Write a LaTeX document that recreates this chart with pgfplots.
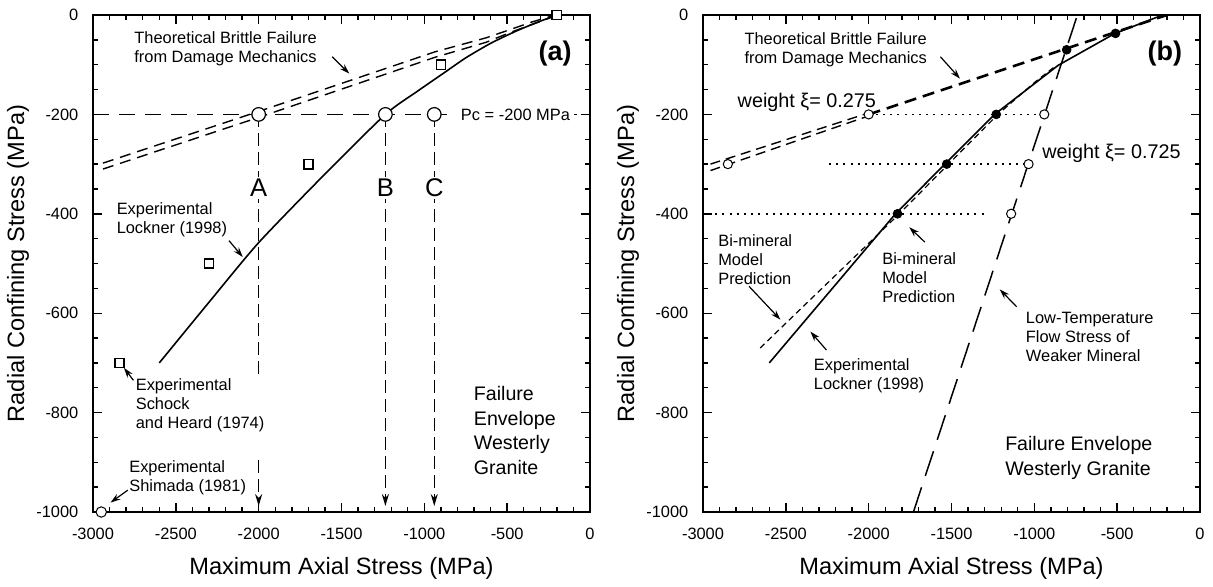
\documentclass[border=0pt]{standalone}
\usepackage{fontspec}
\setmainfont{Liberation Sans}
\usepackage{pgfplots}
\pgfplotsset{compat=1.18}
\usetikzlibrary{arrows.meta}

\newcommand\sm{\fontsize{8.2}{9.5}\selectfont}
\newcommand\md{\fontsize{9.8}{12.2}\selectfont}

\tikzset{arr/.style={-{Stealth[length=5pt,width=3.2pt]}, line width=0.6pt}}

\pgfplotsset{
  panel/.style={
    scale only axis, width=248.5pt, height=248.5pt,
    anchor=south west,
    xmin=-3000, xmax=0, ymin=-1000, ymax=0,
    xtick={-3000,-2500,...,0},
    xticklabels={-3000,-2500,-2000,-1500,-1000,-500,0},
    ytick={-1000,-800,...,0},
    yticklabels={-1000,-800,-600,-400,-200,0},
    minor x tick num=4, minor y tick num=3,
    tick align=inside, major tick length=4.5pt, minor tick length=2.5pt,
    every tick/.style={black, line width=0.7pt},
    axis line style={line width=1pt},
    tick label style={font=\fontsize{8.2}{9}\selectfont},
    xticklabel style={yshift=-4.3pt},
    yticklabel style={xshift=-3.8pt},
    xlabel={Maximum Axial Stress (MPa)},
    ylabel={Radial Confining Stress (MPa)},
    label style={font=\fontsize{11.8}{13}\selectfont},
    xlabel style={at={(axis description cs:0.5,-0.1127)}, anchor=center},
    ylabel style={at={(axis description cs:-0.151,0.5)}, anchor=center},
  }
}

\begin{document}
\begin{tikzpicture}

% ---------------- panel (a)
\begin{axis}[panel, at={(46.5pt,37pt)}]
% brittle failure, damage mechanics (double dashed)
\addplot[black, line width=0.7pt, dash pattern=on 5.5pt off 3.5pt] coordinates {
  (-2940,-298) (-2000,-194) (-935,-74) (-628,-46) (-488,-30) (-350,-14) (-210,0)};
\addplot[black, line width=0.7pt, dash pattern=on 5.5pt off 3.5pt] coordinates {
  (-2940,-310) (-2000,-206) (-935,-85) (-628,-55) (-488,-36) (-350,-19) (-210,-2)};
% Pc = -200 line
\addplot[black, line width=0.7pt, dash pattern=on 8pt off 5pt] coordinates {(-3000,-200) (0,-200)};
% vertical drops
\addplot[black, line width=0.75pt, dash pattern=on 6.5pt off 3pt] coordinates {(-2000,-200) (-2000,-722)};
\addplot[black, line width=0.75pt, dash pattern=on 6.5pt off 3pt, -{Stealth[length=6pt,width=3.5pt]}] coordinates {(-2000,-895) (-2000,-988)};
\addplot[black, line width=0.75pt, dash pattern=on 6.5pt off 3pt, -{Stealth[length=6pt,width=3.5pt]}] coordinates {(-1235,-200) (-1235,-988)};
\addplot[black, line width=0.75pt, dash pattern=on 6.5pt off 3pt, -{Stealth[length=6pt,width=3.5pt]}] coordinates {(-940,-200) (-940,-988)};
% Lockner (1998)
\addplot[black, line width=0.8pt, smooth, tension=0.4] coordinates {
  (-2600,-700) (-2300,-578) (-2000,-458) (-1600,-320) (-1235,-200)
  (-1040,-153) (-875,-115) (-749,-86) (-600,-57) (-450,-33) (-320,-15) (-200,0)};
% Schock and Heard squares
\addplot[only marks, mark=square*, mark size=2.3pt,
  mark options={fill=white, draw=black, line width=0.8pt}] coordinates {
  (-200,0) (-900,-100) (-1700,-300) (-2300,-500) (-2840,-700)};
% Shimada
\addplot[only marks, mark=*, mark size=2.6pt,
  mark options={fill=white, draw=black, line width=0.5pt}] coordinates {(-2950,-1000)};
% A, B, C points
\addplot[only marks, mark=*, mark size=3.4pt,
  mark options={fill=white, draw=black, line width=0.6pt}] coordinates {
  (-2000,-200) (-1235,-200) (-940,-200)};

\node[font=\fontsize{12.8}{14}\selectfont, fill=white, inner sep=1pt] at (axis cs:-2000,-348) {A};
\node[font=\fontsize{12.8}{14}\selectfont, fill=white, inner sep=1pt] at (axis cs:-1235,-348) {B};
\node[font=\fontsize{12.8}{14}\selectfont, fill=white, inner sep=1pt] at (axis cs:-940,-348) {C};
\node[font=\sm, fill=white, inner sep=2pt] at (axis cs:-450,-200) {Pc = -200 MPa};
\node[font=\fontsize{13.5}{15}\selectfont\bfseries] at (axis cs:-210,-77) {(a)};

\node[font=\sm, align=center, inner sep=0pt] at (axis cs:-2200,-68) {Theoretical Brittle Failure\\from Damage Mechanics};
\draw[arr] (axis cs:-1556,-84) -- (axis cs:-1453,-118);
\node[font=\sm, align=left, anchor=west, inner sep=0pt] at (axis cs:-2859,-412) {Experimental\\Lockner (1998)};
\draw[arr] (axis cs:-2179,-454) -- (axis cs:-2096,-487);
\node[font=\sm, align=left, anchor=west, inner sep=0pt] at (axis cs:-2744,-785) {Experimental\\Schock\\and Heard (1974)};
\draw[arr] (axis cs:-2756,-735) -- (axis cs:-2813,-710);
\node[font=\sm, align=left, anchor=west, inner sep=0pt] at (axis cs:-2783,-931) {Experimental\\Shimada (1981)};
\draw[arr] (axis cs:-2790,-956) -- (axis cs:-2894,-981);
\node[font=\md, align=left, anchor=west, inner sep=0pt] at (axis cs:-703,-836) {Failure\\Envelope\\Westerly\\Granite};
\end{axis}

% ---------------- panel (b)
\begin{axis}[panel, at={(351.5pt,37pt)}]
% low-temperature flow stress of weaker mineral
\addplot[black, line width=0.75pt, dash pattern=on 13pt off 6pt] coordinates {(-1730,-1000) (-740,0)};
% brittle failure (thick dashed)
\addplot[black, line width=1.3pt, dash pattern=on 6pt off 3.5pt] coordinates {(-2000,-200) (-200,0)};
\addplot[black, line width=0.7pt, dash pattern=on 5pt off 3pt] coordinates {(-2955,-300) (-2000,-197)};
\addplot[black, line width=0.7pt, dash pattern=on 5pt off 3pt] coordinates {(-2955,-313) (-2000,-203)};
% dotted construction lines
\addplot[black, line width=0.9pt, dash pattern=on 1pt off 2.6pt] coordinates {(-2000,-200) (-940,-200)};
\addplot[black, line width=0.9pt, dash pattern=on 1pt off 2.6pt] coordinates {(-2240,-300) (-1060,-300)};
\addplot[black, line width=0.9pt, dash pattern=on 1pt off 2.6pt] coordinates {(-2970,-400) (-1300,-400)};
% Lockner (1998)
\addplot[black, line width=0.8pt] coordinates {
  (-2600,-700) (-1838,-400) (-1540,-300) (-1240,-200) (-855,-101) (-513,-37) (-225,0)};
% bi-mineral model prediction
\addplot[black, line width=0.6pt, dash pattern=on 3pt off 2pt] coordinates {
  (-2655,-670) (-1815,-400) (-1518,-300) (-1220,-200) (-1000,-136) (-870,-102)};
% model points
\addplot[only marks, mark=*, mark size=2.2pt, mark options={fill=black, draw=black}] coordinates {
  (-510,-37) (-805,-70) (-1230,-200) (-1529,-300) (-1826,-400)};
\addplot[only marks, mark=*, mark size=2.3pt,
  mark options={fill=white, draw=black, line width=0.5pt}] coordinates {
  (-2850,-300) (-2000,-200) (-940,-200) (-1035,-300) (-1140,-400)};

\node[font=\fontsize{13.5}{15}\selectfont\bfseries] at (axis cs:-212,-77) {(b)};
\node[font=\sm, align=center, inner sep=0pt] at (axis cs:-2199,-70) {Theoretical Brittle Failure\\from Damage Mechanics};
\draw[arr] (axis cs:-1567,-84) -- (axis cs:-1449,-128);
\node[font=\fontsize{9.9}{12}\selectfont, anchor=west, inner sep=0pt] at (axis cs:-2793,-175) {weight ξ= 0.275};
\node[font=\fontsize{9.9}{12}\selectfont, anchor=west, inner sep=0pt] at (axis cs:-954,-279) {weight ξ= 0.725};
\node[font=\sm, align=left, anchor=west, inner sep=0pt] at (axis cs:-2910,-493) {Bi-mineral\\Model\\Prediction};
\draw[arr] (axis cs:-2722,-546) -- (axis cs:-2533,-613);
\node[font=\sm, align=left, anchor=west, inner sep=0pt] at (axis cs:-1920,-529) {Bi-mineral\\Model\\Prediction};
\draw[arr] (axis cs:-1661,-457) -- (axis cs:-1755,-427);
\node[font=\sm, align=left, anchor=west, inner sep=0pt] at (axis cs:-2333,-725) {Experimental\\Lockner (1998)};
\draw[arr] (axis cs:-2255,-674) -- (axis cs:-2352,-637);
\node[font=\sm, align=left, anchor=west, inner sep=0pt] at (axis cs:-1053,-647) {Low-Temperature\\Flow Stress of\\Weaker Mineral};
\draw[arr] (axis cs:-1107,-587) -- (axis cs:-1209,-552);
\node[font=\md, align=left, anchor=west, inner sep=0pt] at (axis cs:-1178,-891) {Failure Envelope\\Westerly Granite};
\end{axis}

\pgfresetboundingbox
\path (0,0) rectangle (606.5pt,293pt);
\end{tikzpicture}
\end{document}
